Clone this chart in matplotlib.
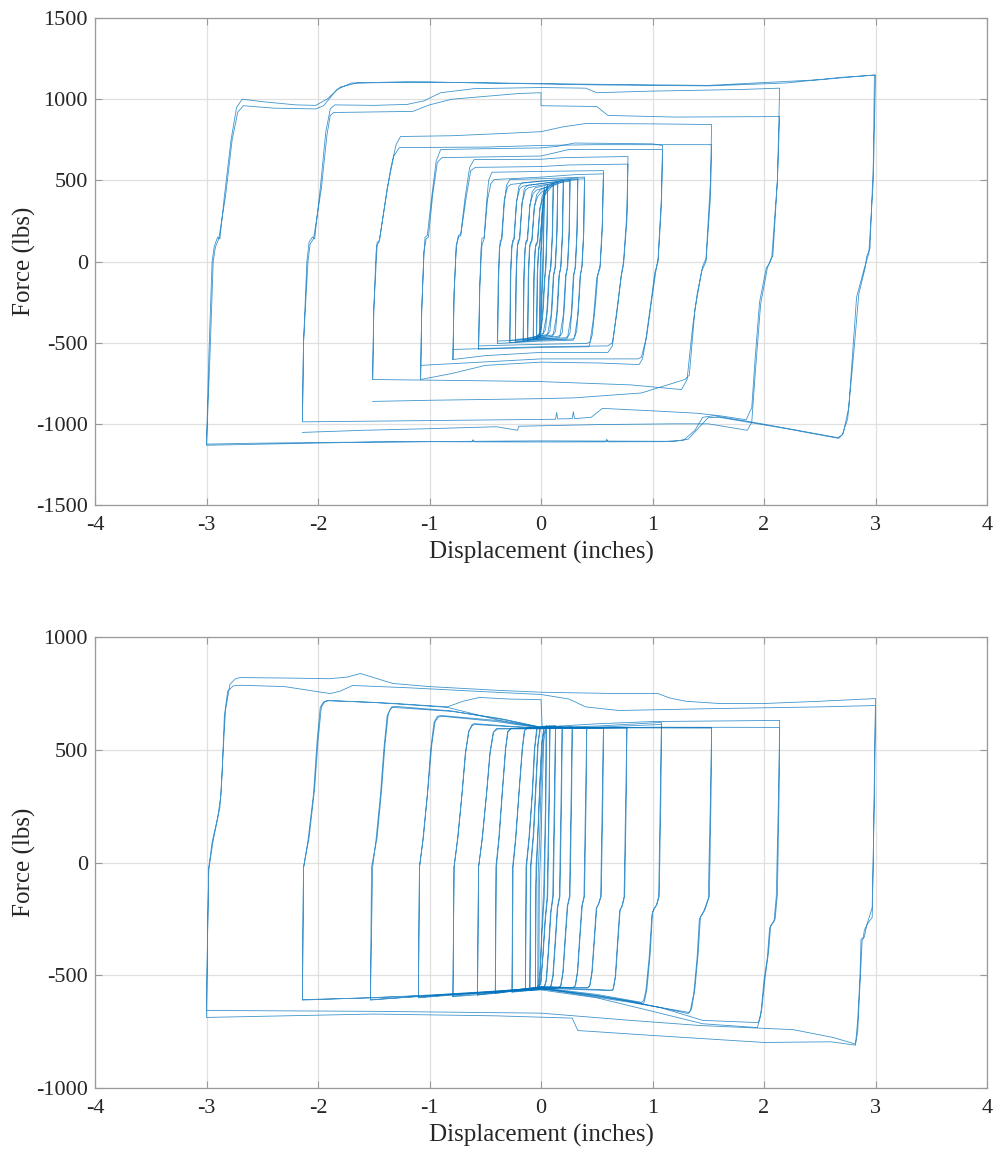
import matplotlib
matplotlib.use("Agg")
import matplotlib.pyplot as plt

plt.rcParams['font.family'] = ['Liberation Serif', 'DejaVu Serif']
plt.rcParams['axes.unicode_minus'] = False

LINE_COLOR = '#0072BD'

# ---------------- data: top panel (two laps per loop) ----------------
top_loop_3 = [
    (-3.00,-1128),(-2.98,-600),(-2.95,0),(-2.93,95),(-2.90,150),(-2.88,140),(-2.84,400),(-2.78,750),
    (-2.73,950),(-2.68,1000),(-2.50,985),(-2.20,965),(-2.02,962),(-1.92,1000),(-1.80,1075),(-1.65,1100),
    (-1.20,1108),(-0.50,1100),(0.50,1088),(1.50,1082),(2.20,1100),(2.70,1135),(2.99,1148),(2.98,600),
    (2.95,80),(2.92,30),(2.91,-30),(2.85,-200),(2.80,-600),(2.75,-970),(2.70,-1070),(2.66,-1085),
    (2.30,-1040),(1.90,-990),(1.55,-950),(1.45,-960),(1.38,-1040),(1.28,-1100),(1.10,-1110),(0.60,-1111),
    (0.59,-1095),(0.58,-1111),(0.00,-1112),(-0.60,-1111),(-0.61,-1098),(-0.62,-1111),
    (-1.00,-1110),(-2.00,-1115),(-2.60,-1120),(-3.00,-1125),
    (-2.97,-600),(-2.94,0),(-2.92,90),(-2.89,140),(-2.83,400),(-2.77,750),(-2.72,920),(-2.67,960),
    (-2.40,945),(-2.02,940),(-1.95,960),(-1.83,1060),(-1.70,1100),(-1.00,1105),(0.50,1092),(1.50,1085),
    (2.50,1120),(3.00,1150),(2.98,500),(2.94,50),(2.90,-40),(2.83,-220),(2.76,-900),(2.71,-1060),
    (2.67,-1090),(2.20,-1030),(1.60,-960),(1.50,-962),(1.42,-1020),(1.32,-1095),(1.20,-1108),(0.00,-1105),
    (-1.50,-1112),(-3.00,-1132),
]
top_loop_2 = [
    (-2.14,-985),(-2.13,-500),(-2.10,0),(-2.08,120),(-2.05,150),(-2.03,140),(-1.98,450),(-1.93,800),
    (-1.89,940),(-1.85,965),(-1.50,962),(-1.20,968),(-1.05,990),(-0.90,1040),(-0.60,1065),(0.00,1072),
    (0.40,1068),(0.50,1040),(1.00,1050),(1.80,1060),(2.14,1068),(2.12,500),(2.08,40),(2.05,-10),
    (2.02,-40),(1.96,-250),(1.92,-600),(1.89,-900),(1.84,-975),(1.60,-950),(1.40,-935),(1.00,-920),
    (0.55,-905),(0.45,-960),(0.30,-968),(0.29,-925),(0.28,-968),(0.15,-970),(0.14,-930),(0.13,-972),
    (-1.00,-980),(-2.14,-988),
    (-2.13,-500),(-2.09,0),(-2.07,110),(-2.04,140),(-1.97,450),(-1.92,780),(-1.89,900),(-1.86,918),
    (-1.15,925),(-1.00,965),(-0.80,1000),(-0.20,1035),(0.00,1040),(0.00,960),(0.50,955),(0.60,900),
    (1.20,890),(2.14,893),(2.12,500),(2.07,30),(2.03,-40),(1.97,-260),(1.92,-700),(1.89,-990),
    (1.85,-1040),(1.50,-1000),(1.20,-1000),(0.50,-1005),(-0.20,-1015),(-0.21,-1040),(-0.40,-1018),
    (-1.00,-1030),(-1.60,-1040),(-2.14,-1053),
]
top_loop_15 = [
    (-1.51,-727),(-1.50,-300),(-1.48,50),(-1.47,117),(-1.45,130),(-1.40,350),(-1.35,567),(-1.30,720),
    (-1.26,770),(-0.80,775),(-0.30,790),(0.00,800),(0.20,830),(0.40,850),(1.00,848),(1.53,844),
    (1.52,500),(1.48,20),(1.45,-30),(1.40,-200),(1.36,-400),(1.31,-727),(1.26,-789),(0.80,-760),
    (0.20,-745),(0.00,-740),(-0.50,-735),(-1.51,-727),
    (-1.50,-300),(-1.47,100),(-1.45,125),(-1.38,450),(-1.32,650),(-1.27,702),(-0.50,705),(0.00,715),
    (0.50,720),(1.53,720),(1.52,400),(1.48,0),(1.44,-60),(1.38,-300),(1.33,-700),(1.29,-727),
    (0.90,-810),(0.30,-840),(0.00,-845),(-1.00,-855),(-1.51,-862),
]
top_loop_1 = [
    (-1.08,-727),(-1.07,-300),(-1.05,50),(-1.04,150),(-1.02,160),(-0.98,400),(-0.94,620),(-0.90,690),
    (-0.50,695),(0.00,700),(0.15,710),(0.30,730),(1.00,725),(1.09,715),(1.08,400),(1.05,20),
    (1.03,-60),(0.99,-250),(0.95,-450),(0.91,-600),(0.88,-635),(0.50,-625),(0.00,-620),(-0.50,-640),
    (-0.80,-690),(-1.08,-727),
    (-1.07,-300),(-1.05,60),(-1.03,140),(-1.01,150),(-0.97,420),(-0.93,610),(-0.89,640),(0.00,650),
    (0.25,690),(1.09,690),(1.08,350),(1.05,0),(1.02,-70),(0.98,-280),(0.94,-480),(0.90,-590),
    (0.87,-600),(0.00,-600),(-1.08,-640),
]
top_loop_075 = [
    (-0.79,-604),(-0.78,-200),(-0.76,100),(-0.74,160),(-0.72,170),(-0.68,400),(-0.64,580),(-0.60,628),
    (0.00,630),(0.20,640),(0.78,647),(0.77,300),(0.74,0),(0.72,-80),(0.68,-300),(0.64,-520),
    (0.60,-560),(0.00,-560),(-0.50,-580),(-0.79,-604),
    (-0.78,-200),(-0.76,90),(-0.74,150),(-0.72,160),(-0.67,400),(-0.63,560),(-0.59,580),(0.00,585),
    (0.25,595),(0.78,600),(0.77,250),(0.74,-20),(0.72,-90),(0.68,-320),(0.64,-500),(0.60,-520),
    (0.00,-525),(-0.79,-542),
]
top_loop_056 = [
    (-0.56,-540),(-0.55,-200),(-0.54,60),(-0.53,140),(-0.51,150),(-0.49,350),(-0.47,500),(-0.44,550),
    (0.00,555),(0.30,558),(0.56,560),(0.55,250),(0.53,-20),(0.51,-80),(0.49,-250),(0.46,-450),
    (0.43,-525),(0.00,-530),(-0.30,-535),(-0.56,-540),
    (-0.56,-520),(-0.55,-150),(-0.53,100),(-0.51,140),(-0.48,380),(-0.45,480),(-0.42,505),(0.00,520),
    (0.30,535),(0.56,540),(0.55,200),(0.53,-40),(0.50,-100),(0.47,-350),(0.44,-495),(0.41,-505),
    (0.00,-510),(-0.56,-520),
]
top_loop_039 = [
    (-0.39,-505),(-0.385,-150),(-0.375,60),(-0.365,130),(-0.35,140),(-0.33,350),(-0.31,470),(-0.28,505),
    (0.00,510),(0.39,520),(0.385,200),(0.37,-20),(0.355,-80),(0.34,-250),(0.32,-430),(0.29,-485),
    (0.00,-490),(-0.39,-505),
    (-0.38,-100),(-0.37,90),(-0.355,135),(-0.33,380),(-0.30,460),(-0.27,475),(0.00,495),(0.39,510),
    (0.38,150),(0.365,-40),(0.35,-90),(0.33,-330),(0.30,-470),(0.28,-478),(0.00,-480),(-0.39,-490),
]
top_loop_030 = [
    (-0.28,-500),(-0.275,-100),(-0.265,70),(-0.255,130),(-0.24,140),(-0.22,360),(-0.20,460),(-0.17,485),
    (0.00,495),(0.33,515),(0.325,200),(0.31,-30),(0.295,-80),(0.28,-280),(0.26,-440),(0.23,-478),
    (0.00,-485),(-0.28,-500),
    (-0.27,-50),(-0.26,100),(-0.245,130),(-0.22,370),(-0.19,450),(-0.16,465),(0.00,480),(0.33,505),
    (0.32,150),(0.305,-40),(0.29,-90),(0.27,-330),(0.24,-460),(0.22,-470),(0.00,-475),(-0.28,-485),
]
top_loop_025 = [
    (-0.23,-495),(-0.225,-100),(-0.215,70),(-0.205,130),(-0.19,140),(-0.17,360),(-0.15,450),(-0.12,470),
    (0.00,480),(0.26,505),(0.255,200),(0.24,-30),(0.225,-80),(0.21,-280),(0.19,-440),(0.16,-470),
    (0.00,-478),(-0.23,-495),
    (-0.22,-50),(-0.21,100),(-0.195,130),(-0.17,360),(-0.14,440),(-0.11,455),(0.00,470),(0.26,495),
    (0.25,150),(0.235,-40),(0.22,-90),(0.20,-330),(0.17,-455),(0.15,-462),(0.00,-468),(-0.23,-480),
]
top_loop_018 = [
    (-0.16,-490),(-0.155,-100),(-0.145,70),(-0.135,125),(-0.12,135),(-0.10,340),(-0.08,430),(-0.05,455),
    (0.00,462),(0.20,500),(0.195,200),(0.18,-30),(0.165,-80),(0.15,-280),(0.13,-430),(0.10,-462),
    (0.00,-470),(-0.16,-490),
    (-0.15,-50),(-0.14,100),(-0.125,125),(-0.10,350),(-0.07,420),(-0.04,440),(0.00,448),(0.20,490),
    (0.19,150),(0.175,-40),(0.16,-90),(0.14,-330),(0.11,-448),(0.09,-455),(0.00,-460),(-0.16,-478),
]
top_loop_013 = [
    (-0.12,-485),(-0.115,-100),(-0.105,70),(-0.095,120),(-0.08,130),(-0.06,330),(-0.04,410),(-0.01,440),
    (0.15,492),(0.145,200),(0.13,-30),(0.115,-80),(0.10,-280),(0.08,-430),(0.05,-458),(-0.12,-485),
    (-0.11,-50),(-0.10,100),(-0.085,120),(-0.06,340),(-0.03,400),(0.00,425),(0.15,482),(0.14,150),
    (0.125,-40),(0.11,-90),(0.09,-330),(0.06,-445),(0.04,-452),(-0.12,-472),
]
top_loop_009 = [
    (-0.07,-480),(-0.065,-100),(-0.055,60),(-0.045,110),(-0.03,120),(-0.01,320),(0.01,400),(0.03,430),
    (0.11,485),(0.105,200),(0.09,-30),(0.075,-80),(0.06,-280),(0.04,-420),(0.01,-455),(-0.07,-480),
    (-0.06,-50),(-0.05,90),(-0.035,110),(-0.01,330),(0.02,395),(0.04,415),(0.11,475),(0.10,150),
    (0.085,-40),(0.07,-90),(0.05,-330),(0.02,-440),(0.00,-448),(-0.07,-468),
]
top_loop_005 = [
    (-0.04,-475),(-0.035,-100),(-0.025,50),(-0.015,100),(0.00,200),(0.02,380),(0.04,430),(0.06,475),
    (0.055,200),(0.045,-30),(0.035,-100),(0.02,-300),(0.00,-430),(-0.02,-455),(-0.04,-475),
    (-0.03,-50),(-0.02,80),(-0.01,110),(0.01,300),(0.03,400),(0.045,430),(0.06,465),(0.05,150),
    (0.04,-40),(0.03,-120),(0.01,-350),(-0.01,-440),(-0.04,-462),
]
top_loop_002 = [
    (-0.01,-465),(-0.005,-150),(0.00,50),(0.01,150),(0.02,320),(0.03,460),(0.025,200),(0.02,-50),
    (0.01,-200),(0.00,-400),(-0.01,-465),
    (-0.015,-450),(-0.01,-100),(0.00,100),(0.01,250),(0.02,380),(0.03,450),(0.02,100),(0.01,-100),
    (0.00,-300),(-0.015,-450),
]

# ---------------- data: bottom panel ----------------
bot_loop_3 = [
    (-3.00,-656),(-2.99,-300),(-2.98,-23),(-2.95,90),(-2.90,200),(-2.87,300),(-2.85,500),(-2.83,674),
    (-2.79,790),(-2.74,815),(-2.70,820),(-2.30,818),(-1.90,815),(-1.74,822),(-1.62,838),(-1.50,820),
    (-1.33,794),(-1.00,780),(-0.37,763),(0.00,755),(0.70,749),(1.05,749),(1.15,730),(1.30,715),
    (1.60,705),(2.00,705),(2.50,715),(3.00,727),(2.99,400),(2.98,0),(2.97,-244),(2.93,-270),
    (2.90,-300),(2.89,-333),(2.87,-340),(2.86,-510),(2.84,-700),(2.82,-810),(2.60,-795),(2.00,-798),
    (1.00,-767),(0.33,-745),(0.28,-690),(-0.40,-680),(-1.50,-672),(-3.00,-687),
    (-2.99,-300),(-2.98,-30),(-2.94,98),(-2.88,244),(-2.86,400),(-2.84,650),(-2.81,760),(-2.76,783),
    (-2.70,786),(-2.30,780),(-1.89,749),(-1.80,760),(-1.69,785),(-1.20,775),(-0.37,754),(0.00,745),
    (0.25,725),(0.40,690),(0.70,674),(1.50,682),(2.50,690),(3.00,696),(2.99,300),(2.97,-200),
    (2.92,-280),(2.90,-330),(2.88,-345),(2.86,-550),(2.84,-750),(2.82,-805),(2.62,-776),(2.26,-741),
    (1.43,-723),(0.80,-700),(0.00,-668),(-1.50,-660),(-3.00,-656),
]
bot_loop_2 = [
    (-2.14,-608),(-2.135,-300),(-2.13,-23),(-2.09,98),(-2.04,306),(-2.01,528),(-1.98,688),(-1.95,712),
    (-1.92,718),(-1.50,710),(-0.84,688),(-0.37,630),(0.00,600),(0.50,615),(1.00,625),(2.14,630),
    (2.135,300),(2.12,-138),(2.10,-250),(2.08,-266),(2.06,-280),(2.04,-400),(2.01,-510),(1.98,-650),
    (1.95,-710),(1.45,-700),(1.07,-643),(0.50,-590),(0.00,-560),(-0.50,-575),(-1.50,-600),(-2.14,-608),
    (-2.13,-23),(-2.08,110),(-2.03,330),(-2.00,540),(-1.97,690),(-1.94,712),(-1.90,718),(-1.30,705),
    (-0.84,690),(-0.70,715),(-0.55,732),(-0.30,725),(0.00,722),(0.01,600),(0.50,595),(1.00,600),
    (2.14,599),(2.13,300),(2.11,-150),(2.09,-260),(2.07,-275),(2.05,-290),(2.03,-420),(2.00,-520),
    (1.97,-680),(1.94,-732),(1.45,-715),(1.00,-660),(0.50,-600),(0.00,-565),(-1.00,-590),(-2.14,-610),
]
bot_loop_15 = [
    (-1.53,-608),(-1.52,-300),(-1.51,-20),(-1.48,100),(-1.44,300),(-1.41,500),(-1.38,650),(-1.35,682),
    (-1.33,688),(-0.80,670),(-0.37,639),(0.00,600),(0.50,598),(1.53,599),(1.525,300),(1.51,-150),
    (1.47,-210),(1.45,-226),(1.43,-240),(1.41,-400),(1.38,-560),(1.35,-650),(1.33,-665),(0.80,-620),
    (0.00,-560),(-0.80,-585),(-1.53,-608),
    (-1.52,-20),(-1.47,110),(-1.43,320),(-1.40,520),(-1.37,660),(-1.34,690),(-1.30,692),(-0.80,672),
    (-0.30,630),(0.00,598),(0.80,597),(1.53,596),(1.52,300),(1.50,-160),(1.46,-215),(1.44,-235),
    (1.42,-250),(1.40,-420),(1.37,-580),(1.34,-655),(1.32,-670),(0.80,-615),(0.00,-557),(-0.80,-582),
    (-1.53,-610),
]
bot_loop_1 = [
    (-1.10,-600),(-1.095,-300),(-1.09,-20),(-1.06,100),(-1.02,300),(-0.99,500),(-0.96,620),(-0.93,648),
    (-0.90,652),(-0.40,630),(0.00,598),(0.50,605),(1.08,621),(1.075,300),(1.06,-150),(1.04,-185),
    (1.02,-200),(1.00,-220),(0.98,-400),(0.95,-560),(0.93,-610),(0.92,-625),(0.50,-590),(0.00,-558),
    (-0.60,-580),(-1.10,-600),
    (-1.09,-20),(-1.055,110),(-1.015,320),(-0.98,520),(-0.95,625),(-0.92,645),(-0.88,648),(-0.40,625),
    (0.00,596),(0.50,600),(1.08,612),(1.07,300),(1.055,-150),(1.035,-190),(1.015,-205),(0.995,-230),
    (0.97,-420),(0.94,-570),(0.92,-612),(0.90,-620),(0.50,-585),(0.00,-555),(-0.60,-578),(-1.10,-598),
]
bot_loop_075 = [
    (-0.79,-595),(-0.785,-300),(-0.78,-20),(-0.75,100),(-0.71,300),(-0.68,480),(-0.65,580),(-0.62,610),
    (-0.60,616),(-0.30,605),(0.00,596),(0.77,599),(0.765,300),(0.75,-150),(0.73,-190),(0.71,-210),
    (0.69,-350),(0.67,-500),(0.65,-560),(0.64,-568),(0.30,-563),(0.00,-556),(-0.40,-580),(-0.79,-595),
    (-0.78,-20),(-0.745,110),(-0.705,320),(-0.675,490),(-0.645,585),(-0.615,608),(-0.59,612),(0.00,594),
    (0.77,596),(0.76,300),(0.745,-150),(0.725,-195),(0.705,-215),(0.685,-360),(0.665,-510),(0.645,-562),
    (0.63,-566),(0.00,-553),(-0.79,-592),
]
bot_loop_056 = [
    (-0.57,-588),(-0.565,-300),(-0.56,-20),(-0.53,100),(-0.49,300),(-0.46,480),(-0.43,575),(-0.40,594),
    (0.00,595),(0.56,598),(0.555,300),(0.54,-150),(0.52,-180),(0.50,-200),(0.48,-340),(0.46,-480),
    (0.44,-545),(0.42,-555),(0.00,-553),(-0.57,-588),
    (-0.56,-20),(-0.525,110),(-0.485,320),(-0.455,490),(-0.425,578),(-0.39,592),(0.00,593),(0.56,596),
    (0.55,300),(0.535,-150),(0.515,-185),(0.495,-205),(0.475,-350),(0.455,-490),(0.435,-548),(0.415,-556),
    (0.00,-551),(-0.57,-585),
]
bot_loop_041 = [
    (-0.41,-580),(-0.405,-20),(-0.38,100),(-0.35,300),(-0.32,500),(-0.30,580),(-0.27,595),(0.00,598),
    (0.41,600),(0.405,300),(0.39,-150),(0.37,-190),(0.35,-330),(0.33,-480),(0.31,-545),(0.29,-555),
    (0.00,-553),(-0.41,-580),
    (-0.40,-20),(-0.375,110),(-0.345,320),(-0.315,510),(-0.295,582),(-0.265,594),(0.00,596),(0.41,598),
    (0.40,300),(0.385,-150),(0.365,-195),(0.345,-340),(0.325,-490),(0.305,-548),(0.285,-555),(0.00,-551),
    (-0.41,-578),
]
bot_loop_027 = [
    (-0.26,-575),(-0.255,-20),(-0.23,100),(-0.20,300),(-0.17,500),(-0.15,585),(-0.12,597),(0.28,600),
    (0.275,300),(0.26,-150),(0.24,-190),(0.22,-330),(0.20,-480),(0.18,-545),(0.16,-555),(-0.26,-575),
    (-0.25,-20),(-0.225,110),(-0.195,320),(-0.165,510),(-0.145,588),(-0.115,598),(0.28,602),(0.27,300),
    (0.255,-150),(0.235,-195),(0.215,-340),(0.195,-490),(0.175,-548),(0.155,-556),(-0.26,-572),
]
bot_loop_017 = [
    (-0.14,-568),(-0.135,-20),(-0.11,100),(-0.08,300),(-0.06,500),(-0.04,590),(-0.02,600),(0.19,602),
    (0.185,300),(0.17,-150),(0.15,-200),(0.13,-350),(0.11,-500),(0.09,-550),(0.07,-556),(-0.14,-568),
    (-0.13,-20),(-0.105,110),(-0.075,320),(-0.055,510),(-0.035,592),(-0.015,601),(0.19,604),(0.18,300),
    (0.165,-150),(0.145,-205),(0.125,-360),(0.105,-505),(0.085,-552),(0.065,-557),(-0.14,-566),
]
bot_loop_012 = [
    (-0.10,-565),(-0.095,-20),(-0.07,120),(-0.05,320),(-0.03,520),(-0.01,595),(0.01,603),(0.13,605),
    (0.125,300),(0.11,-150),(0.09,-220),(0.07,-380),(0.05,-520),(0.03,-555),(-0.10,-565),
    (-0.09,-20),(-0.065,130),(-0.045,330),(-0.025,530),(-0.005,598),(0.015,604),(0.13,606),(0.12,300),
    (0.105,-150),(0.085,-225),(0.065,-390),(0.045,-525),(0.025,-556),(-0.10,-563),
]
bot_loop_006 = [
    (-0.05,-562),(-0.045,-20),(-0.03,120),(-0.01,350),(0.01,540),(0.03,600),(0.08,606),(0.075,300),
    (0.06,-150),(0.04,-250),(0.02,-400),(0.00,-530),(-0.02,-556),(-0.05,-562),
    (-0.045,-100),(-0.03,80),(-0.015,300),(0.005,520),(0.025,598),(0.08,604),(0.07,250),(0.055,-150),
    (0.035,-260),(0.015,-420),(-0.005,-540),(-0.05,-560),
]
bot_loop_004 = [
    (-0.03,-560),(-0.025,-50),(-0.01,150),(0.00,350),(0.02,560),(0.05,608),(0.045,300),(0.03,-150),
    (0.01,-300),(-0.01,-500),(-0.03,-560),
    (-0.02,-558),(-0.015,-100),(0.00,100),(0.01,300),(0.025,540),(0.045,602),(0.04,250),(0.025,-100),
    (0.005,-320),(-0.01,-520),(-0.02,-558),
]

top_loops = [top_loop_3, top_loop_2, top_loop_15, top_loop_1, top_loop_075, top_loop_056,
             top_loop_039, top_loop_030, top_loop_025, top_loop_018, top_loop_013, top_loop_009,
             top_loop_005, top_loop_002]
bot_loops = [bot_loop_3, bot_loop_2, bot_loop_15, bot_loop_1, bot_loop_075, bot_loop_056,
             bot_loop_041, bot_loop_027, bot_loop_017, bot_loop_012, bot_loop_006, bot_loop_004]

x_ticks = [-4, -3, -2, -1, 0, 1, 2, 3, 4]
top_y_ticks = [-1500, -1000, -500, 0, 500, 1000, 1500]
bot_y_ticks = [-1000, -500, 0, 500, 1000]
x_label = 'Displacement (inches)'
y_label = 'Force (lbs)'

# ---------------- figure ----------------
fig = plt.figure(figsize=(9.97, 11.5), dpi=100)
ax_top = fig.add_axes([0.0953, 0.5609, 0.8947, 0.4234])
ax_bot = fig.add_axes([0.0953, 0.0539, 0.8947, 0.3922])


def style(ax, yticks):
    ax.set_xlim(x_ticks[0], x_ticks[-1])
    ax.set_ylim(yticks[0], yticks[-1])
    ax.set_xticks(x_ticks)
    ax.set_yticks(yticks)
    ax.set_xticklabels([str(v) for v in x_ticks])
    ax.set_yticklabels([str(v) for v in yticks])
    ax.grid(True, color='#e0e0e0', linewidth=0.9)
    ax.set_axisbelow(True)
    for sp in ax.spines.values():
        sp.set_color('#9a9a9a')
        sp.set_linewidth(0.9)
    ax.tick_params(direction='in', length=5, width=0.8, color='#9a9a9a',
                   top=True, right=True, labelsize=16, labelcolor='#262626')
    ax.tick_params(axis='x', pad=8)
    ax.tick_params(axis='y', pad=5)
    ax.set_xlabel(x_label, fontsize=18, color='#262626', labelpad=4)
    ax.set_ylabel(y_label, fontsize=18, color='#262626', labelpad=0)


for loop in top_loops:
    xs = [p[0] for p in loop]
    ys = [p[1] for p in loop]
    ax_top.plot(xs, ys, color=LINE_COLOR, linewidth=0.6, alpha=0.75)
for loop in bot_loops:
    xs = [p[0] for p in loop]
    ys = [p[1] for p in loop]
    ax_bot.plot(xs, ys, color=LINE_COLOR, linewidth=0.6, alpha=0.75)

style(ax_top, top_y_ticks)
style(ax_bot, bot_y_ticks)

fig.savefig('out.png', dpi=100)
